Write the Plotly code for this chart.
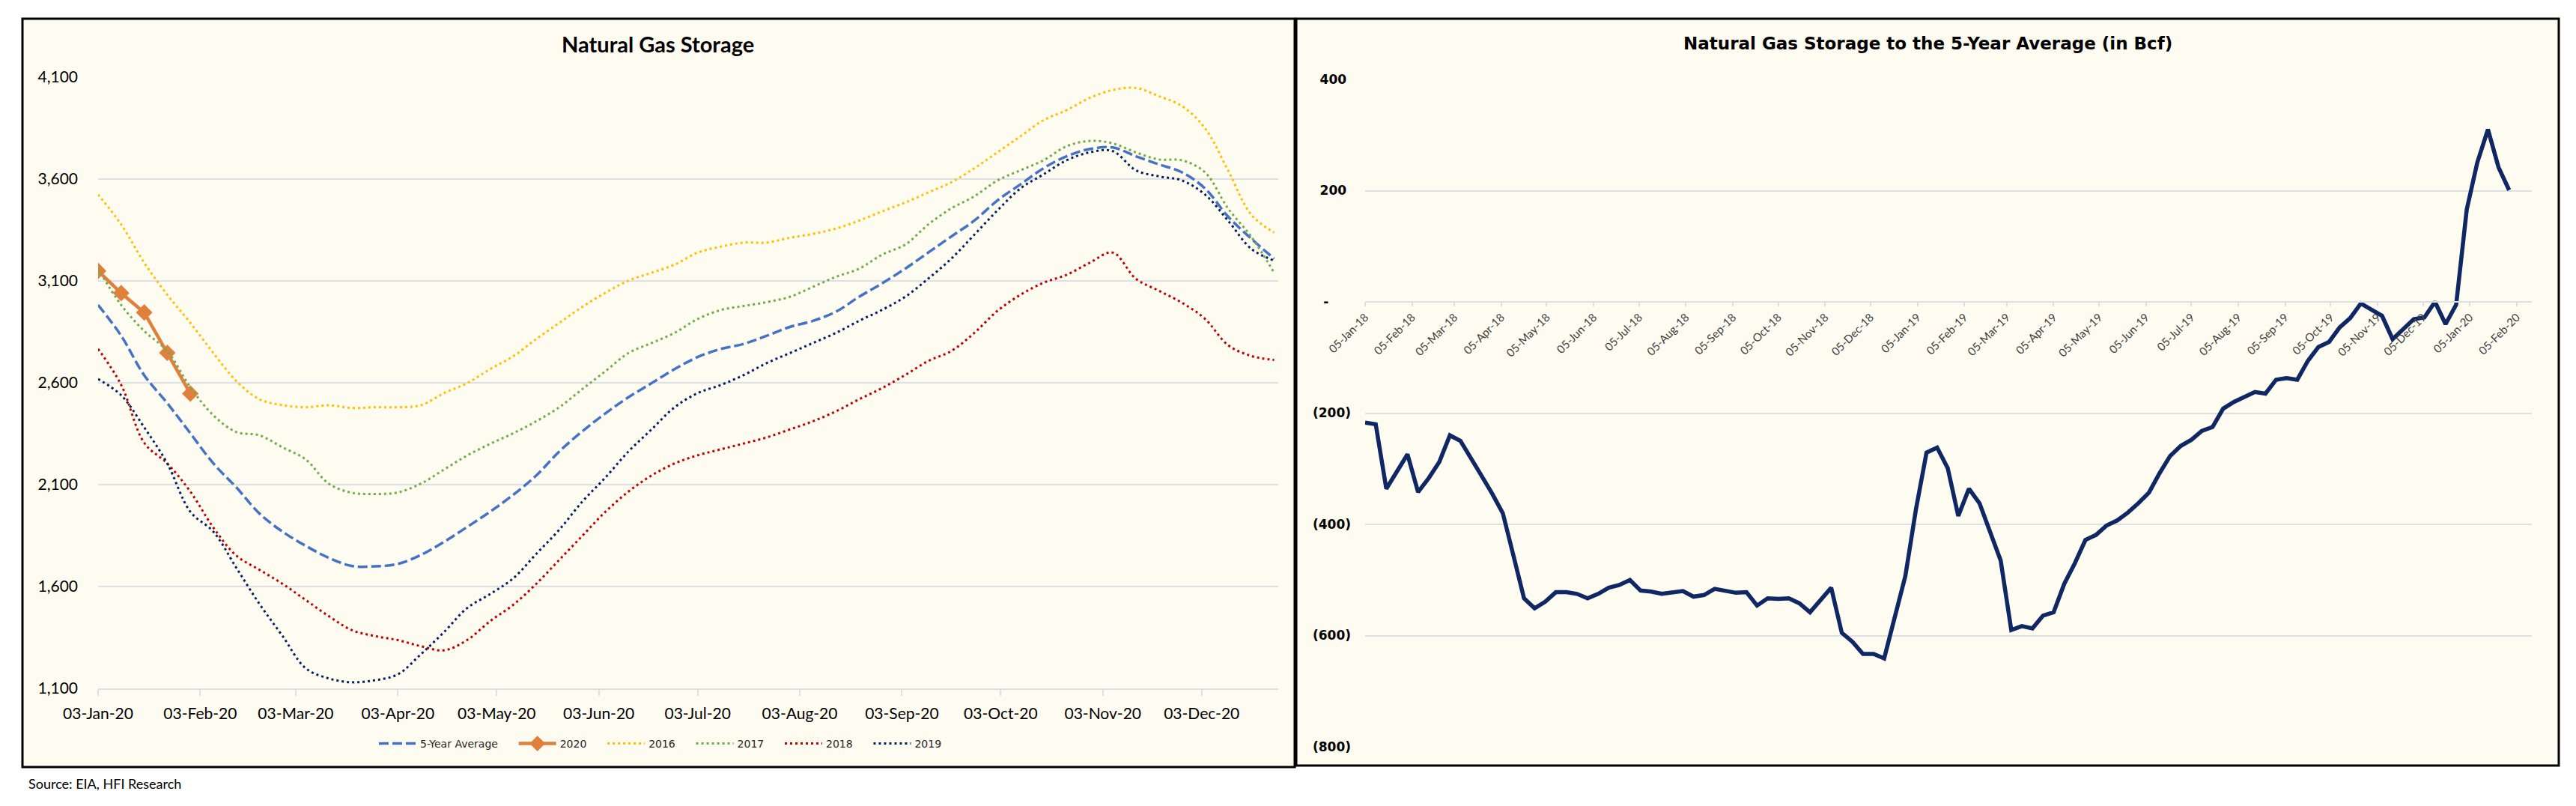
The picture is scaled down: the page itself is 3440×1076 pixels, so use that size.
import pandas as pd
import plotly.graph_objects as go

# --- left chart: weekly storage (Bcf), mapped onto 2020 weeks ---
weeks_2020 = pd.date_range('2020-01-03', periods=52, freq='7D')

avg_5yr = [2982, 2831, 2637, 2500, 2352, 2204, 2086, 1958, 1869, 1800, 1741, 1701, 1699,
           1711, 1755, 1819, 1892, 1967, 2050, 2145, 2263, 2362, 2450, 2529, 2598, 2667,
           2726, 2766, 2791, 2831, 2874, 2904, 2949, 3022, 3088, 3160, 3239, 3318, 3396,
           3495, 3574, 3653, 3712, 3747, 3755, 3712, 3672, 3633, 3554, 3416, 3308, 3209]
s_2020 = [3149, 3040, 2945, 2747, 2547]
s_2016 = [3524, 3377, 3189, 3032, 2894, 2746, 2608, 2519, 2490, 2480, 2490, 2476, 2480,
          2480, 2490, 2549, 2598, 2667, 2730, 2815, 2894, 2973, 3042, 3101, 3140, 3180,
          3239, 3268, 3288, 3288, 3312, 3331, 3357, 3396, 3441, 3485, 3534, 3584, 3653,
          3731, 3810, 3889, 3938, 3998, 4037, 4047, 4007, 3958, 3850, 3643, 3426, 3337]
s_2017 = [3160, 2982, 2854, 2756, 2578, 2440, 2358, 2342, 2283, 2224, 2105, 2060, 2054,
          2062, 2105, 2174, 2243, 2300, 2352, 2411, 2480, 2569, 2657, 2746, 2795, 2845,
          2913, 2957, 2977, 2996, 3022, 3071, 3120, 3160, 3229, 3278, 3377, 3456, 3515,
          3593, 3643, 3692, 3761, 3787, 3775, 3731, 3696, 3692, 3633, 3456, 3318, 3140]
s_2018 = [2766, 2590, 2305, 2204, 2066, 1889, 1751, 1682, 1613, 1534, 1455, 1386, 1357,
          1337, 1307, 1287, 1337, 1430, 1510, 1613, 1731, 1849, 1967, 2066, 2145, 2204,
          2244, 2273, 2302, 2332, 2371, 2411, 2460, 2519, 2574, 2638, 2707, 2756, 2845,
          2953, 3032, 3091, 3130, 3189, 3239, 3111, 3052, 2993, 2914, 2785, 2732, 2712]
s_2019 = [2618, 2539, 2381, 2204, 1967, 1869, 1691, 1514, 1357, 1199, 1149, 1130, 1140,
          1169, 1268, 1376, 1494, 1563, 1640, 1760, 1879, 2017, 2135, 2263, 2371, 2480,
          2549, 2589, 2638, 2697, 2746, 2795, 2845, 2904, 2958, 3022, 3111, 3209, 3327,
          3446, 3554, 3623, 3692, 3731, 3737, 3643, 3613, 3593, 3524, 3396, 3258, 3199]
left_ticks = [f'2020-{m:02d}-03' for m in range(1, 13)]
left_yvals = [1100, 1600, 2100, 2600, 3100, 3600, 4100]

# --- right chart: storage minus 5-year average (Bcf), weekly ---
weeks_diff = pd.date_range('2018-01-05', periods=109, freq='7D')
vs_avg = [-217, -220, -336, -305, -274, -342, -317, -288, -240, -250, -283, -313, -345,
          -380, -456, -533, -551, -539, -522, -522, -525, -533, -525, -514, -509, -500,
          -519, -521, -525, -522, -520, -530, -527, -516, -519, -523, -522, -546, -533,
          -534, -533, -542, -558, -537, -514, -595, -611, -633, -633, -641, -567, -493,
          -373, -271, -262, -299, -385, -336, -362, -414, -465, -590, -583, -587, -564,
          -558, -507, -470, -428, -419, -402, -393, -379, -362, -343, -308, -277, -259,
          -248, -232, -225, -192, -180, -171, -162, -165, -140, -137, -140, -106, -81,
          -72, -46, -29, -3, -14, -25, -67, -49, -31, -28, 0, -40, -5, 166, 251, 310,
          242, 201]
right_ticks = [f'{y}-{m:02d}-05' for y in (2018, 2019) for m in range(1, 13)] + ['2020-01-05', '2020-02-05']
right_yvals = [400, 200, 0, -200, -400, -600, -800]
right_ylabels = ['400\u00a0', '200\u00a0', '-\u2007\u2007\u00a0', '(200)', '(400)', '(600)', '(800)']

W, H = 3440, 1076
px = lambda v: v / W          # pixel -> paper x
py = lambda v: 1 - v / H      # pixel -> paper y
pad = '\u00a0' * 4            # extra room between legend entries

fig = go.Figure()

dotted = '3px,4px'
fig.add_trace(go.Scatter(x=weeks_2020, y=avg_5yr, name='5-Year Average' + pad, mode='lines',
                         line=dict(color='#4472C4', width=3.5, dash='13px,5px', shape='spline')))
fig.add_trace(go.Scatter(x=weeks_2020[:len(s_2020)], y=s_2020, name='2020' + pad, mode='lines+markers',
                         line=dict(color='#E0803C', width=4.5),
                         marker=dict(symbol='diamond', size=17, color='#E0803C')))
fig.add_trace(go.Scatter(x=weeks_2020, y=s_2016, name='2016' + pad, mode='lines',
                         line=dict(color='#FFC000', width=3, dash=dotted, shape='spline')))
fig.add_trace(go.Scatter(x=weeks_2020, y=s_2017, name='2017' + pad, mode='lines',
                         line=dict(color='#70AD47', width=3, dash=dotted, shape='spline')))
fig.add_trace(go.Scatter(x=weeks_2020, y=s_2018, name='2018' + pad, mode='lines',
                         line=dict(color='#C00000', width=3, dash=dotted, shape='spline')))
fig.add_trace(go.Scatter(x=weeks_2020, y=s_2019, name='2019', mode='lines',
                         line=dict(color='#002060', width=3, dash=dotted, shape='spline')))

fig.add_trace(go.Scatter(x=weeks_diff, y=vs_avg, xaxis='x2', yaxis='y2', mode='lines',
                         showlegend=False, line=dict(color='#0F2762', width=5.5)))

grid = '#DCDFE4'
left_font = dict(family='Lato, Open Sans, sans-serif', size=21, color='#000000')
fig.update_layout(
    width=W, height=H, autosize=False,
    margin=dict(l=0, r=0, t=0, b=0, pad=0),
    paper_bgcolor='white', plot_bgcolor='rgba(0,0,0,0)',
    xaxis=dict(domain=[px(131), px(1707)], anchor='y', type='date', automargin=False,
               range=['2020-01-03', '2020-12-26 06:00'], tickvals=left_ticks,
               tickformat='%d-%b-%y', showgrid=False, showline=True, linecolor=grid,
               linewidth=2, ticks='outside', ticklen=8, tickwidth=2, tickcolor=grid,
               tickfont=left_font, ticklabelstandoff=6),
    yaxis=dict(domain=[py(919), py(103)], anchor='x', range=[1100, 4100], automargin=False,
               tickvals=left_yvals, tickformat=',d', gridcolor=grid, gridwidth=2,
               zeroline=False, showline=False, tickfont=left_font, ticklabelstandoff=26),
    xaxis2=dict(domain=[px(1823), px(3381)], anchor='free', position=py(403), type='date',
                automargin=False, range=['2018-01-05', '2020-02-15'], tickvals=right_ticks,
                tickformat='%d-%b-%y', tickangle=-45, showgrid=False, showline=True,
                linecolor=grid, linewidth=2, ticks='outside', ticklen=5, tickwidth=2,
                tickcolor=grid, tickfont=dict(family='Lato, sans-serif', size=15, color='#404040')),
    yaxis2=dict(domain=[py(997), py(106)], anchor='x2', range=[-800, 400], automargin=False,
                tickvals=right_yvals, ticktext=right_ylabels, gridcolor=grid, gridwidth=2,
                zeroline=False, showline=False, ticklabelstandoff=18,
                tickfont=dict(family='DejaVu Sans', size=17, color='#000000', weight='bold')),
    legend=dict(orientation='h', x=px(882), y=py(993), xanchor='center', yanchor='middle',
                bgcolor='rgba(0,0,0,0)', itemwidth=50,
                font=dict(family='DejaVu Sans', size=14, color='#262626')),
    shapes=[
        dict(type='rect', xref='paper', yref='paper', layer='below',
             x0=px(30), x1=px(1729), y0=py(1024), y1=py(25),
             line=dict(color='black', width=3), fillcolor='#FEFBF0'),
        dict(type='rect', xref='paper', yref='paper', layer='below',
             x0=px(1731), x1=px(3417), y0=py(1022), y1=py(25),
             line=dict(color='black', width=3), fillcolor='#FEFBF0'),
    ],
    annotations=[
        dict(text='Natural Gas Storage', xref='paper', yref='paper', x=px(879), y=py(58),
             showarrow=False, xanchor='center', yanchor='middle',
             font=dict(family='Lato, sans-serif', size=29, color='#000000', weight='bold')),
        dict(text='Natural Gas Storage to the 5-Year Average (in Bcf)', xref='paper',
             yref='paper', x=px(2574), y=py(58), showarrow=False, xanchor='center',
             yanchor='middle',
             font=dict(family='DejaVu Sans', size=23, color='#000000', weight='bold')),
        dict(text='Source: EIA, HFI Research', xref='paper', yref='paper', x=px(36),
             y=py(1046), showarrow=False, xanchor='left', yanchor='middle',
             font=dict(family='Lato, sans-serif', size=18, color='#000000')),
    ],
)

fig.write_html('out.html', config={'displayModeBar': False},
               post_script="document.body.style.margin='0';")
